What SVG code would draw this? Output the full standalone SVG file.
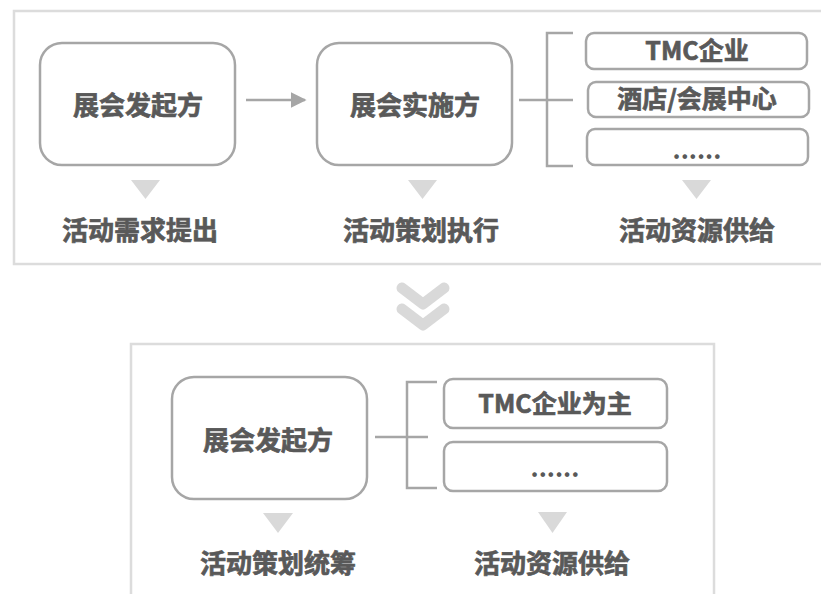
<svg xmlns="http://www.w3.org/2000/svg" width="821" height="594" viewBox="0 0 821 594">
<style>
.frame{fill:none;stroke:#dcdcdc;stroke-width:2.5}
.box{fill:#fff;stroke:#a6a6a6;stroke-width:2.5}
.sbox{fill:#fff;stroke:#a6a6a6;stroke-width:2.5}
.ln{fill:none;stroke:#a6a6a6;stroke-width:2.5}
.tri{fill:#d9d9d9}
.t{font-family:"Noto Sans CJK SC","Microsoft YaHei",sans-serif;font-weight:bold;font-size:26px;fill:#595959;stroke:#595959;stroke-width:0.7;text-anchor:middle}
.ts{font-size:25px}
.dots{stroke-width:0}
</style>
<defs>
<marker id="ah" viewBox="0 0 10 10" refX="9" refY="5" markerWidth="16" markerHeight="16" markerUnits="userSpaceOnUse" orient="auto">
<path d="M0,0 L10,5 L0,10 z" fill="#a6a6a6"/>
</marker>
</defs>
<rect class="frame" x="14" y="11" width="830" height="253"/>
<rect class="frame" x="131" y="344" width="583" height="280"/>
<g id="connectors">
<line class="ln" x1="246" y1="100" x2="305" y2="100" marker-end="url(#ah)"/>
<line class="ln" x1="519" y1="100" x2="573" y2="100"/>
<polyline class="ln" points="573,33 547,33 547,166 573,166"/>
<line class="ln" x1="375" y1="437" x2="428" y2="437"/>
<polyline class="ln" points="437,382 407,382 407,488 437,488"/>
<polygon class="tri" points="131,180 160,180 145.5,199"/>
<polygon class="tri" points="408,180 437,180 422.5,199"/>
<polygon class="tri" points="682,180 711,180 696.5,199"/>
<polygon class="tri" points="263,513 293,513 278,533"/>
<polygon class="tri" points="538,512 567,512 552.5,533"/>
<g fill="none" stroke="#d9d9d9" stroke-width="11" stroke-linecap="round" stroke-linejoin="round">
<polyline points="402,288 423,304 444,288"/>
<polyline points="402,309 423,325 444,309"/>
</g>
</g>
<g id="n1"><rect class="box" x="40" y="43" width="195" height="122" rx="22"/><text class="t" x="138" y="115">展会发起方</text></g>
<g id="n2"><rect class="box" x="317" y="43" width="195" height="122" rx="22"/><text class="t" x="415" y="115">展会实施方</text></g>
<g id="r1"><rect class="sbox" x="586" y="33" width="221" height="36" rx="8"/><text class="t ts" x="697" y="60">TMC企业</text></g>
<g id="r2"><rect class="sbox" x="588" y="82" width="221" height="35" rx="8"/><text class="t ts" x="697" y="108">酒店/会展中心</text></g>
<g id="r3"><rect class="sbox" x="587" y="129" width="221" height="36" rx="8"/><text class="t ts dots" x="697" y="159">......</text></g>
<g id="l1"><text class="t" x="140" y="240">活动需求提出</text></g>
<g id="l2"><text class="t" x="421" y="240">活动策划执行</text></g>
<g id="l3"><text class="t" x="697" y="240">活动资源供给</text></g>
<g id="n3"><rect class="box" x="172" y="377" width="195" height="122" rx="22"/><text class="t" x="268" y="450">展会发起方</text></g>
<g id="r4"><rect class="sbox" x="444" y="379" width="223" height="49" rx="9"/><text class="t ts" x="555" y="413">TMC企业为主</text></g>
<g id="r5"><rect class="sbox" x="444" y="442" width="223" height="49" rx="9"/><text class="t ts dots" x="555" y="477">......</text></g>
<g id="l4"><text class="t" x="278" y="573">活动策划统筹</text></g>
<g id="l5"><text class="t" x="552" y="573">活动资源供给</text></g>
</svg>
